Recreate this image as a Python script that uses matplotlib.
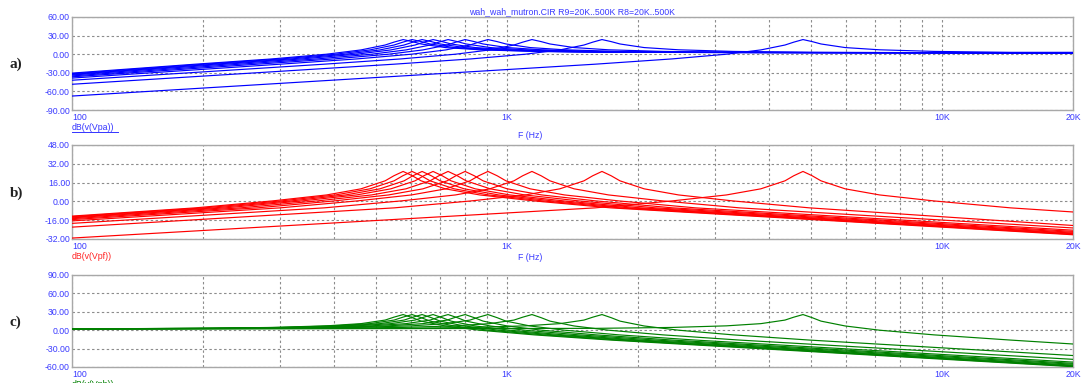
import matplotlib
matplotlib.use('Agg')
import matplotlib.pyplot as plt
from matplotlib.lines import Line2D
from matplotlib.ticker import FixedLocator, NullFormatter

# ---------------- data ----------------
# resonance frequency of each of the 10 swept traces (Hz)
peak_freqs = [577, 605, 638, 676, 732, 801, 904, 1141, 1653, 4790]

# frequency ratios (relative to a trace's resonance) at which the peak profile was read
profile_ratios = [0.333, 0.5, 0.667, 0.8, 0.909, 0.952, 1.0, 1.05, 1.1, 1.25, 1.5, 2.0, 3.0]

# peak profile (dB) of every trace in each panel
vpa_profile = [-16.1, -7.6, 0.0, 6.9, 14.8, 19.4, 23.6, 20.3, 16.5, 10.7, 7.1, 4.5, 3.0]
vpf_profile = [-5.5, 0.4, 5.5, 10.7, 17.5, 21.8, 25.5, 21.8, 17.5, 10.7, 5.5, 0.4, -5.5]
vph_profile = [3.0, 4.5, 7.1, 10.7, 16.5, 21.2, 25.5, 20.4, 14.8, 6.9, 0.0, -7.6, -16.1]

# values at the sweep ends: 100 Hz and 20 kHz (dB), one per trace
vpa_100 = [-30.5, -31.5, -32.5, -33.5, -35.0, -36.5, -38.5, -42.0, -48.5, -67.5]
vpa_20k = [2.0, 2.0, 2.0, 2.0, 2.0, 2.0, 2.0, 2.0, 2.0, 3.0]
vpf_100 = [-12.5, -13.0, -13.5, -14.0, -14.7, -15.5, -16.6, -18.7, -21.9, -31.2]
vpf_20k = [-28.4, -28.0, -27.5, -27.0, -26.3, -25.5, -24.5, -22.6, -20.5, -9.0]
vph_100 = [2.2, 2.2, 2.2, 2.2, 2.2, 2.2, 2.2, 2.1, 2.1, 2.0]
vph_20k = [-59.5, -58.8, -58.0, -57.0, -55.5, -54.0, -52.0, -47.5, -41.3, -22.5]

x_ticks = [100, 1000, 10000, 20000]
x_tick_labels = ["100", "1K", "10K", "20K"]
x_minor = [200, 300, 400, 500, 600, 700, 800, 900,
           2000, 3000, 4000, 5000, 6000, 7000, 8000, 9000]

vpa_yticks = [60, 30, 0, -30, -60, -90]
vpf_yticks = [48, 32, 16, 0, -16, -32]
vph_yticks = [90, 60, 30, 0, -30, -60]

title = "wah_wah_mutron.CIR R9=20K..500K R8=20K..500K"

# ---------------- figure ----------------
W, H = 1081, 383
fig = plt.figure(figsize=(W / 100, H / 100), dpi=100)
fig.patch.set_facecolor('white')

def fx(px):
    return px / W

def fy(py):
    return 1 - py / H

LEFT, RIGHT = 72, 1073
panels = [
    dict(top=17, bot=110, prof=vpa_profile, e100=vpa_100, e20k=vpa_20k,
         yt=vpa_yticks, color='#0000ff', label='a)', ylabel='dB(v(Vpa))',
         lcol='#3333ff', underline=True),
    dict(top=145, bot=239, prof=vpf_profile, e100=vpf_100, e20k=vpf_20k,
         yt=vpf_yticks, color='#ff0000', label='b)', ylabel='dB(v(Vpf))',
         lcol='#ff2222', underline=False),
    dict(top=275, bot=367, prof=vph_profile, e100=vph_100, e20k=vph_20k,
         yt=vph_yticks, color='#008000', label='c)', ylabel='dB(v(Vph))',
         lcol='#008000', underline=False),
]

TICKCOL = '#3a3aff'
GRIDCOL = '#8c8c8c'
FRAMECOL = '#a8a8a8'
tfont = dict(family='Liberation Sans', size=6.3)

for p in panels:
    ax = fig.add_axes([fx(LEFT), fy(p['bot']), fx(RIGHT - LEFT), (p['bot'] - p['top']) / H])
    ax.set_xscale('log')
    for pf, a, b in zip(peak_freqs, p['e100'], p['e20k']):
        fr = [100] + [pf * r for r in profile_ratios] + [20000]
        vals = [a] + list(p['prof']) + [b]
        ax.plot(fr, vals, color=p['color'], lw=0.85, zorder=3, solid_joinstyle='round')
    ax.set_xlim(100, 20000)
    ax.set_ylim(p['yt'][-1], p['yt'][0])
    ax.xaxis.set_major_locator(FixedLocator(x_ticks))
    ax.xaxis.set_minor_locator(FixedLocator(x_minor))
    ax.xaxis.set_minor_formatter(NullFormatter())
    ax.set_xticklabels(x_tick_labels, color=TICKCOL, **tfont)
    ax.set_yticks(p['yt'])
    ax.set_yticklabels([f"{v:.2f}" for v in p['yt']], color=TICKCOL, **tfont)
    ax.tick_params(axis='both', which='both', length=0)
    ax.tick_params(axis='x', pad=2.2)
    ax.tick_params(axis='y', pad=1.5)
    ax.get_xticklabels()[0].set_ha('left')
    ax.grid(True, which='both', axis='x', color=GRIDCOL, lw=0.8, ls=(0, (2.2, 2.2)))
    ax.grid(True, which='major', axis='y', color=GRIDCOL, lw=0.8, ls=(0, (2.2, 2.2)))
    for s in ax.spines.values():
        s.set_color(FRAMECOL)
        s.set_linewidth(1.0)
    ax.set_axisbelow(True)
    # panel letter
    fig.text(fx(10), fy((p['top'] + p['bot']) / 2 + 1), p['label'],
             family='Liberation Serif', size=11, weight='bold', color='#222222',
             ha='left', va='center')
    # trace name under the axis
    fig.text(fx(LEFT), fy(p['bot'] + 13), p['ylabel'], color=p['lcol'],
             ha='left', va='top', **tfont)
    if p['underline']:
        fig.add_artist(Line2D([fx(LEFT), fx(118)], [fy(p['bot'] + 21.5)] * 2,
                              color=p['lcol'], lw=0.7))

# title and x-axis name
fig.text(fx(572), fy(12), title, color=TICKCOL, ha='center', va='center', **tfont)
fig.text(fx(530), fy(136), "F (Hz)", color=TICKCOL, ha='center', va='center', **tfont)
fig.text(fx(530), fy(257), "F (Hz)", color=TICKCOL, ha='center', va='center', **tfont)

fig.savefig('out.png', dpi=100, facecolor='white')
